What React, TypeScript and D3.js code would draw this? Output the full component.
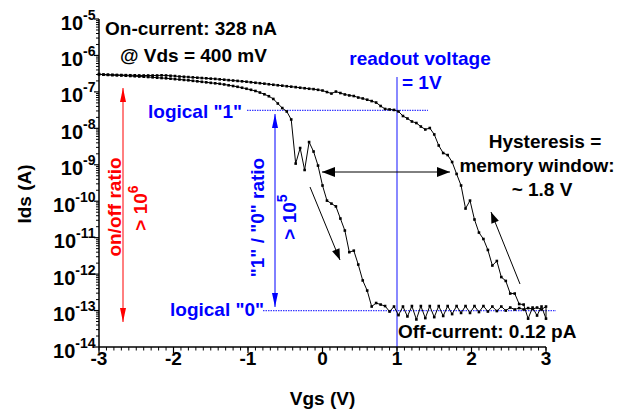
import React from "react";
import * as d3 from "d3";

// Gate voltage sweep points (V)
const vgs = [
  -3, -2.94, -2.88, -2.82, -2.76, -2.7, -2.64, -2.58, -2.52, -2.46,
  -2.4, -2.34, -2.28, -2.22, -2.16, -2.1, -2.04, -1.98, -1.92, -1.86,
  -1.8, -1.74, -1.68, -1.62, -1.56, -1.5, -1.44, -1.38, -1.32, -1.26,
  -1.2, -1.14, -1.08, -1.02, -0.96, -0.9, -0.84, -0.78, -0.72, -0.66,
  -0.6, -0.54, -0.48, -0.42, -0.36, -0.3, -0.24, -0.18, -0.12, -0.06,
  0, 0.06, 0.12, 0.18, 0.24, 0.3, 0.36, 0.42, 0.48, 0.54,
  0.6, 0.66, 0.72, 0.78, 0.84, 0.9, 0.96, 1.02, 1.08, 1.14,
  1.2, 1.26, 1.32, 1.38, 1.44, 1.5, 1.56, 1.62, 1.68, 1.74,
  1.8, 1.86, 1.92, 1.98, 2.04, 2.1, 2.16, 2.22, 2.28, 2.34,
  2.4, 2.46, 2.52, 2.58, 2.64, 2.7, 2.76, 2.82, 2.88, 2.94,
  3,
];

// Forward sweep (-3 V -> 3 V), Ids in A, indexed like vgs
const idsForward = [
  3.1e-7, 2.96e-7, 2.92e-7, 2.88e-7, 2.85e-7, 2.82e-7, 2.78e-7, 2.73e-7, 2.69e-7, 2.64e-7,
  2.61e-7, 2.56e-7, 2.51e-7, 2.45e-7, 2.4e-7, 2.36e-7, 2.3e-7, 2.24e-7, 2.19e-7, 2.13e-7,
  2.08e-7, 2.01e-7, 1.95e-7, 1.89e-7, 1.83e-7, 1.77e-7, 1.72e-7, 1.67e-7, 1.6e-7, 1.52e-7,
  1.45e-7, 1.38e-7, 1.3e-7, 1.22e-7, 1.14e-7, 1.06e-7, 9.6e-8, 8.6e-8, 7.6e-8, 6.4e-8,
  4.8e-8, 3.6e-8, 2.9e-8, 1.75e-8, 1.08e-9, 2.88e-9, 7.2e-10, 4.2e-9, 2.31e-9, 9.5e-10,
  2.7e-10, 1.04e-10, 8.6e-11, 7.2e-11, 3.35e-11, 1.57e-11, 4.0e-12, 4.4e-12, 1.83e-12, 6.7e-13,
  3.54e-13, 1.29e-13, 1.61e-13, 1.46e-13, 1.33e-13, 9.4e-14, 1.29e-13, 7.5e-14, 1.29e-13, 6.9e-14,
  1.33e-13, 5.7e-14, 1.33e-13, 6.2e-14, 1.33e-13, 6.6e-14, 1.33e-13, 7.1e-14, 1.33e-13, 8.0e-14,
  1.33e-13, 8.6e-14, 1.33e-13, 8.6e-14, 1.33e-13, 9.1e-14, 1.33e-13, 9.4e-14, 1.29e-13, 9.7e-14,
  1.29e-13, 1.0e-13, 1.21e-13, 1.07e-13, 1.17e-13, 1.07e-13, 1.17e-13, 1.1e-13, 1.21e-13, 1.07e-13,
  1.29e-13,
];

// Reverse sweep (3 V -> -3 V), Ids in A, indexed like vgs
const idsReverse = [
  3.0e-7, 3.0e-7, 2.96e-7, 2.94e-7, 2.92e-7, 2.9e-7, 2.88e-7, 2.86e-7, 2.85e-7, 2.83e-7,
  2.82e-7, 2.82e-7, 2.82e-7, 2.82e-7, 2.85e-7, 2.82e-7, 2.77e-7, 2.72e-7, 2.64e-7, 2.6e-7,
  2.55e-7, 2.5e-7, 2.45e-7, 2.4e-7, 2.36e-7, 2.31e-7, 2.27e-7, 2.21e-7, 2.16e-7, 2.1e-7,
  2.05e-7, 2.0e-7, 1.95e-7, 1.9e-7, 1.84e-7, 1.78e-7, 1.73e-7, 1.68e-7, 1.62e-7, 1.57e-7,
  1.52e-7, 1.48e-7, 1.43e-7, 1.39e-7, 1.35e-7, 1.3e-7, 1.26e-7, 1.22e-7, 1.19e-7, 1.14e-7,
  1.09e-7, 9.9e-8, 9.0e-8, 1.02e-7, 9.3e-8, 8.5e-8, 8.0e-8, 7.7e-8, 7.0e-8, 6.6e-8,
  6.1e-8, 5.6e-8, 5.1e-8, 4.1e-8, 3.4e-8, 3.3e-8, 3.2e-8, 2.9e-8, 2.18e-8, 1.86e-8,
  1.54e-8, 1.4e-8, 1.12e-8, 9.3e-9, 1.02e-8, 6.8e-9, 3.38e-9, 2.1e-9, 1.85e-9, 1.19e-9,
  5.6e-10, 2.7e-10, 6.3e-11, 1.04e-10, 3.15e-11, 1.38e-11, 9.2e-12, 4.6e-12, 1.72e-12, 2.29e-12,
  8.3e-13, 6.5e-13, 2.93e-13, 2.93e-13, 1.51e-13, 1.46e-13, 6.0e-14, 1.21e-13, 7.3e-14, 1.29e-13,
  6.0e-14,
];

const xTicks = [-3, -2, -1, 0, 1, 2, 3];
const yTickExponents = [-5, -6, -7, -8, -9, -10, -11, -12, -13, -14];

const FONT = "'Liberation Sans', Arial, Helvetica, sans-serif";
const BLUE = "#0000ff";
const RED = "#ff0000";
const FS = 19;

function arrowHead(x1: number, y1: number, x2: number, y2: number, len: number, half: number) {
  const dx = x2 - x1, dy = y2 - y1;
  const d = Math.hypot(dx, dy);
  const ux = dx / d, uy = dy / d;
  const bx = x2 - ux * len, by = y2 - uy * len;
  const px = -uy, py = ux;
  return `${x2},${y2} ${bx + px * half},${by + py * half} ${bx - px * half},${by - py * half}`;
}

function Arrow({ x1, y1, x2, y2, color, both, len = 13, half = 4, width = 1 }: any) {
  return (
    <g>
      <line x1={x1} y1={y1} x2={x2} y2={y2} stroke={color} strokeWidth={width} />
      <polygon points={arrowHead(x1, y1, x2, y2, len, half)} fill={color} />
      {both && <polygon points={arrowHead(x2, y2, x1, y1, len, half)} fill={color} />}
    </g>
  );
}

export default function App() {
  const W = 625, H = 413;
  const x = d3.scaleLinear().domain([-3, 3]).range([99, 546]);
  const y = d3.scaleLog().domain([1e-14, 1e-5]).range([347, 19]);

  const fwd = vgs.map((v, i) => [v, idsForward[i]] as [number, number]);
  const rev = vgs.map((v, i) => [v, idsReverse[i]] as [number, number]).reverse();
  const sweep = fwd.concat(rev);
  const line = d3.line<[number, number]>().x((d) => x(d[0])).y((d) => y(d[1]));

  const xMinor = d3.range(-30, 31).map((k) => k / 10);
  const yMinor: number[] = [];
  for (let e = -14; e < -5; e++) for (let m = 2; m <= 9; m++) yMinor.push(m * Math.pow(10, e));

  const x0 = x(-3), yb = y(1e-14);

  return (
    <svg width={W} height={H} style={{ position: "absolute", left: 0, top: 0, background: "#fff" }} fontFamily={FONT} fontWeight="bold">
      <rect width={W} height={H} fill="#fff" />

      {/* readout voltage line */}
      <line x1={x(1)} x2={x(1)} y1={77} y2={yb} stroke="#3a3aff" strokeWidth={1.2} />

      {/* logical level lines */}
      <line x1={247} x2={428} y1={y(3.1e-8)} y2={y(3.1e-8)} stroke="#3a3aff" strokeWidth={1.2} strokeDasharray="1.5,1" />
      <line x1={263} x2={556} y1={y(1e-13)} y2={y(1e-13)} stroke="#3a3aff" strokeWidth={1.2} strokeDasharray="1.5,1" />

      {/* data */}
      <path d={line(sweep) || ""} fill="none" stroke="#000" strokeWidth={1} />
      {sweep.map((d, i) => (
        <rect key={i} x={x(d[0]) - 1.3} y={y(d[1]) - 1.3} width={2.6} height={2.6} fill="#000" />
      ))}

      {/* axes */}
      <line x1={x0} x2={x0} y1={19} y2={yb} stroke="#000" strokeWidth={1.5} />
      <line x1={x0} x2={x(3)} y1={yb} y2={yb} stroke="#000" strokeWidth={1.5} />
      {yTickExponents.map((e) => (
        <line key={e} x1={x0 - 5} x2={x0} y1={y(Math.pow(10, e))} y2={y(Math.pow(10, e))} stroke="#000" strokeWidth={1.2} />
      ))}
      {yMinor.map((v, i) => (
        <line key={i} x1={x0 - 3} x2={x0} y1={y(v)} y2={y(v)} stroke="#000" strokeWidth={1} />
      ))}
      {xMinor.map((v, i) => (
        <line key={i} x1={x(v)} x2={x(v)} y1={yb} y2={yb + 3.5} stroke="#000" strokeWidth={1} />
      ))}
      {xTicks.map((v) => (
        <line key={v} x1={x(v)} x2={x(v)} y1={yb} y2={yb + 6} stroke="#000" strokeWidth={1.2} />
      ))}

      {/* tick labels */}
      {xTicks.map((v) => (
        <text key={v} x={x(v)} y={364.5} textAnchor="middle" fontSize={19}>{v}</text>
      ))}
      {yTickExponents.map((e) => (
        <text key={e} x={95.5} y={y(Math.pow(10, e)) + 10.5} textAnchor="end" fontSize={20}>
          10<tspan dy={-10} fontSize={14}>{e}</tspan>
        </text>
      ))}

      {/* axis titles */}
      <text x={x(0)} y={405} textAnchor="middle" fontSize={19}>Vgs (V)</text>
      <text transform="translate(31,194) rotate(-90)" textAnchor="middle" fontSize={19}>Ids (A)</text>

      {/* annotations */}
      <text x={105} y={35} fontSize={FS}>On-current: 328 nA</text>
      <text x={120} y={62} fontSize={FS}>@ Vds = 400 mV</text>

      <text x={420} y={65} textAnchor="middle" fontSize={FS} fill={BLUE}>readout voltage</text>
      <text x={402} y={89} fontSize={FS} fill={BLUE}>= 1V</text>

      <text x={148} y={118} fontSize={FS} fill={BLUE}>logical "1"</text>
      <text x={170} y={316} fontSize={FS} fill={BLUE}>logical "0"</text>

      <text x={545} y={147.5} textAnchor="middle" fontSize={FS}>Hysteresis =</text>
      <text x={537} y={171.5} textAnchor="middle" fontSize={FS}>memory window:</text>
      <text x={542} y={195.5} textAnchor="middle" fontSize={FS}>~ 1.8 V</text>

      <text x={398} y={338} fontSize={FS}>Off-current: 0.12 pA</text>

      <Arrow x1={123} y1={88} x2={123} y2={322} color={RED} both len={14} half={3} />
      <text transform="translate(120.5,207) rotate(-90)" textAnchor="middle" fontSize={FS} fill={RED}>on/off ratio</text>
      <text transform="translate(147,208) rotate(-90)" textAnchor="middle" fontSize={FS} fill={RED}>
        &gt; 10<tspan dy={-9} fontSize={14}>6</tspan>
      </text>

      <Arrow x1={275} y1={114} x2={275} y2={307} color={BLUE} both len={14} half={3} />
      <text transform="translate(264,217.5) rotate(-90)" textAnchor="middle" fontSize={FS} fill={BLUE}>"1" / "0" ratio</text>
      <text transform="translate(295.5,217) rotate(-90)" textAnchor="middle" fontSize={FS} fill={BLUE}>
        &gt; 10<tspan dy={-9} fontSize={14}>5</tspan>
      </text>

      <Arrow x1={322} y1={172} x2={450} y2={172} color="#000" both len={13} half={5} />
      <Arrow x1={310} y1={187} x2={340} y2={260} color="#000" len={11} half={4} />
      <Arrow x1={520} y1={284} x2={491} y2={212} color="#000" len={11} half={4} />
    </svg>
  );
}
